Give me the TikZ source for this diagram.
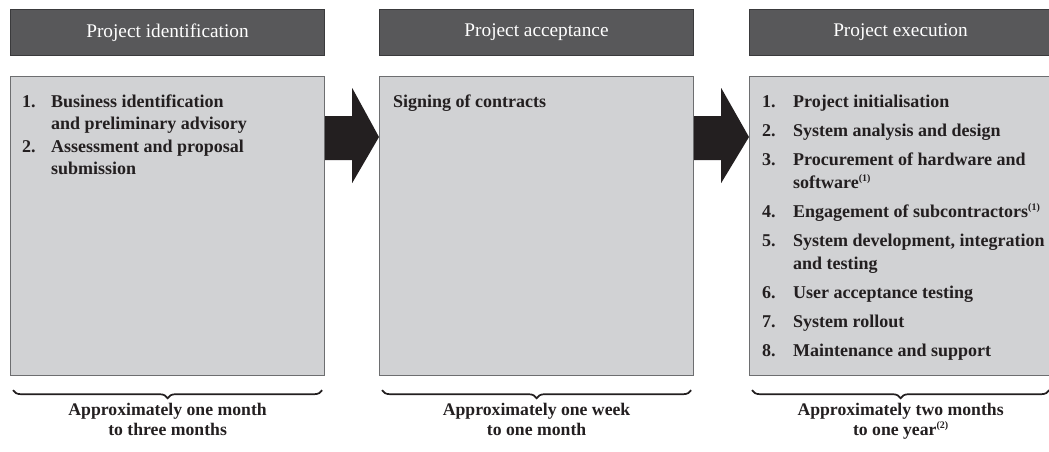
\documentclass[tikz,border=0pt]{standalone}
\usepackage{fontspec}
\setmainfont{Liberation Serif}
\usetikzlibrary{calc,decorations.pathreplacing}
\definecolor{headfill}{HTML}{58585A}
\definecolor{headline}{HTML}{3A3A3C}
\definecolor{boxfill}{HTML}{D1D2D4}
\definecolor{boxline}{HTML}{6D6E70}
\definecolor{ink}{HTML}{231F20}
% small raised note marker
\newcommand{\notemark}[1]{\raisebox{6.5pt}{\fontsize{10}{10}\selectfont(#1)}}
\tikzset{
  header/.style={draw=headline, fill=headfill, line width=1pt, text=white,
    minimum height=46pt, anchor=north west, inner sep=0pt,
    font=\fontsize{19.3}{21}\selectfont},
  stagebox/.style={draw=boxline, fill=boxfill, line width=1.2pt,
    minimum height=299pt, anchor=north west, inner sep=0pt},
  itemlist/.style={anchor=base west, inner sep=0pt, text=ink,
    font=\bfseries\fontsize{18}{23}\selectfont},
  flowarrow/.style={fill=ink},
  span/.style={decorate, decoration={brace, mirror, amplitude=8pt},
    line width=1.7pt, draw=ink},
  duration/.style={anchor=base, inner sep=0pt, text=ink,
    font=\bfseries\fontsize{17.7}{20}\selectfont},
}
\begin{document}
\begin{tikzpicture}[x=1pt,y=-1pt]
\useasboundingbox (0,0) rectangle (1049,451);
\clip (0,0) rectangle (1049,451);
\fill[white] (0,0) rectangle (1049,451);

% stage headers
\node[header, minimum width=314pt] (h1) at (10,9) {Project identification};
\node[header, minimum width=314pt] (h2) at (379,9) {Project acceptance};
\node[header, minimum width=302pt] (h3) at (749,9) {Project execution};

% stage boxes
\node[stagebox, minimum width=314pt] (b1) at (10,76) {};
\node[stagebox, minimum width=314pt] (b2) at (379,76) {};
\node[stagebox, minimum width=302pt] (b3) at (749,76) {};

% box contents
\node[itemlist, font=\bfseries\fontsize{18}{22.5}\selectfont] (l1) at (22,107) {%
  \begin{tabular}[t]{@{}p{29pt}@{}l@{}}
  1. & Business identification\\
     & and preliminary advisory\\
  2. & Assessment and proposal\\
     & submission
  \end{tabular}};
\node[itemlist] (l2) at (393,107) {Signing of contracts};
\node[itemlist] (l3) at (762,107) {%
  \begin{tabular}[t]{@{}p{31pt}@{}l@{}}
  1. & Project initialisation\\[6pt]
  2. & System analysis and design\\[6pt]
  3. & Procurement of hardware and\\
     & software\notemark{1}\\[6pt]
  4. & Engagement of subcontractors\notemark{1}\\[6pt]
  5. & System development, integration\\
     & and testing\\[6pt]
  6. & User acceptance testing\\[6pt]
  7. & System rollout\\[6pt]
  8. & Maintenance and support
  \end{tabular}};

% arrows between stages
\fill[flowarrow] ($(b1.north east)+(0,40)$) -- ($(b1.north east)+(27,40)$)
  -- ($(b1.north east)+(27,12)$) -- ($(b2.north west)+(0,61)$)
  -- ($(b1.north east)+(27,107)$) -- ($(b1.north east)+(27,84)$)
  -- ($(b1.north east)+(0,84)$) -- cycle;
\fill[flowarrow] ($(b2.north east)+(0,40)$) -- ($(b2.north east)+(27,40)$)
  -- ($(b2.north east)+(27,12)$) -- ($(b3.north west)+(0,61)$)
  -- ($(b2.north east)+(27,107)$) -- ($(b2.north east)+(27,84)$)
  -- ($(b2.north east)+(0,84)$) -- cycle;

% duration braces
\draw[span] ($(b1.south west)+(3,14)$) -- ($(b1.south east)+(-3,14)$);
\draw[span] ($(b2.south west)+(3,14)$) -- ($(b2.south east)+(-3,14)$);
\draw[span] ($(b3.south west)+(3,14)$) -- ($(b3.south east)+(-3,14)$);

% durations
\node[duration] (d1) at ($(b1.south)+(0,39)$) {%
  \begin{tabular}[t]{@{}c@{}}Approximately one month\\to three months\end{tabular}};
\node[duration] (d2) at ($(b2.south)+(0,39)$) {%
  \begin{tabular}[t]{@{}c@{}}Approximately one week\\to one month\end{tabular}};
\node[duration] (d3) at ($(b3.south)+(0,39)$) {%
  \begin{tabular}[t]{@{}c@{}}Approximately two months\\to one year\notemark{2}\end{tabular}};
\end{tikzpicture}
\end{document}
